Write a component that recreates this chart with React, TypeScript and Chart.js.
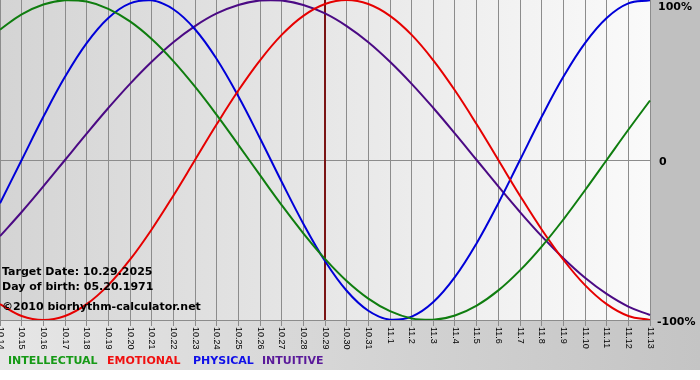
import React, { useEffect, useRef } from "react";
import { Chart, registerables } from "chart.js";

Chart.register(...registerables);

const dayLabels = [
  "10.14", "10.15", "10.16", "10.17", "10.18", "10.19", "10.20", "10.21", "10.22", "10.23",
  "10.24", "10.25", "10.26", "10.27", "10.28", "10.29", "10.30", "10.31", "11.1", "11.2",
  "11.3", "11.4", "11.5", "11.6", "11.7", "11.8", "11.9", "11.10", "11.11", "11.12", "11.13",
];

const intellectual = [
  81.5, 91.0, 97.2, 99.9, 99.0, 94.5, 86.6, 75.6, 61.8, 45.8,
  28.2, 9.5, -9.5, -28.2, -45.8, -61.8, -75.6, -86.6, -94.5, -99.0,
  -99.9, -97.2, -91.0, -81.5, -69.0, -54.1, -37.2, -18.9, 0, 18.9, 37.2,
];
const emotional = [
  -90.1, -97.5, -100, -97.5, -90.1, -78.2, -62.3, -43.4, -22.3, 0,
  22.3, 43.4, 62.3, 78.2, 90.1, 97.5, 100, 97.5, 90.1, 78.2,
  62.3, 43.4, 22.3, 0, -22.3, -43.4, -62.3, -78.2, -90.1, -97.5, -100,
];
const physical = [
  -27.0, 0, 27.0, 52.0, 73.1, 88.8, 97.9, 99.8, 94.2, 81.7,
  63.1, 39.8, 13.6, -13.6, -39.8, -63.1, -81.7, -94.2, -99.8, -97.9,
  -88.8, -73.1, -52.0, -27.0, 0, 27.0, 52.0, 73.1, 88.8, 97.9, 99.8,
];
const intuitive = [
  -47.6, -32.5, -16.5, 0, 16.5, 32.5, 47.6, 61.4, 73.6, 83.7,
  91.6, 96.9, 99.7, 99.7, 96.9, 91.6, 83.7, 73.6, 61.4, 47.6,
  32.5, 16.5, 0, -16.5, -32.5, -47.6, -61.4, -73.6, -83.7, -91.6, -96.9,
];

const targetIndex = 15;
const yTickLabels = ["100%", "0", "-100%"];
const yTickValues = [100, 0, -100];
const infoLines = ["Target Date: 10.29.2025", "Day of birth: 05.20.1971", "©2010 biorhythm-calculator.net"];

const series = [
  { name: "INTELLECTUAL", data: intellectual, color: "#0f7d0f", text: "#169a16" },
  { name: "EMOTIONAL", data: emotional, color: "#e60000", text: "#f01010" },
  { name: "PHYSICAL", data: physical, color: "#0000d8", text: "#1010e8" },
  { name: "INTUITIVE", data: intuitive, color: "#4b0a84", text: "#5a1a9a" },
];

const legendX = [8, 107, 193, 262];

export default function App() {
  const ref = useRef<HTMLCanvasElement>(null);

  useEffect(() => {
    document.body.style.margin = "0";
    const canvas = ref.current;
    if (!canvas) return;

    const decor = {
      id: "decor",
      beforeDraw(chart: any) {
        const { ctx, chartArea, width, height } = chart;
        const { left, right, top, bottom } = chartArea;
        ctx.save();
        ctx.fillStyle = "#ffffff";
        ctx.fillRect(0, 0, width, height);
        const g = ctx.createLinearGradient(left, 0, right, 0);
        g.addColorStop(0, "#d4d4d4");
        g.addColorStop(1, "#fafafa");
        ctx.fillStyle = g;
        ctx.fillRect(left, top, right - left, bottom - top);
        ctx.fillStyle = "#c0c0c0";
        ctx.fillRect(right, 0, width - right, bottom);
        const g2 = ctx.createLinearGradient(0, 0, width, 0);
        g2.addColorStop(0, "#e6e6e6");
        g2.addColorStop(1, "#c4c4c4");
        ctx.fillStyle = g2;
        ctx.fillRect(0, bottom, width, height - bottom);
        ctx.restore();
      },
      beforeDatasetsDraw(chart: any) {
        const { ctx, chartArea } = chart;
        const x = chart.scales.x.getPixelForValue(targetIndex);
        ctx.save();
        ctx.strokeStyle = "#7a1414";
        ctx.lineWidth = 2;
        ctx.beginPath();
        ctx.moveTo(x, chartArea.top);
        ctx.lineTo(x, chartArea.bottom);
        ctx.stroke();
        ctx.restore();
      },
      afterDraw(chart: any) {
        const { ctx, chartArea } = chart;
        const { right, bottom } = chartArea;
        const xs = chart.scales.x;
        const ys = chart.scales.y;
        ctx.save();
        // x labels, rotated clockwise
        ctx.fillStyle = "#000";
        ctx.font = "9px 'Liberation Sans', sans-serif";
        dayLabels.forEach((lab, i) => {
          const x = xs.getPixelForValue(i);
          ctx.save();
          ctx.translate(x, bottom + 7);
          ctx.rotate(Math.PI / 2);
          ctx.textAlign = "left";
          ctx.textBaseline = "middle";
          ctx.fillText(lab, 0, 0);
          ctx.restore();
        });
        // y labels
        ctx.font = "bold 11px 'DejaVu Sans', sans-serif";
        ctx.textAlign = "left";
        ctx.textBaseline = "middle";
        const yOff = [7, 2, 2];
        yTickValues.forEach((v, i) => {
          const y = ys.getPixelForValue(v) + yOff[i];
          const x = v === 0 ? right + 9 : v > 0 ? right + 8 : right + 7;
          ctx.fillText(yTickLabels[i], x, y);
        });
        // info text
        ctx.font = "bold 11px 'DejaVu Sans', sans-serif";
        ctx.fillStyle = "#000";
        const infoY = [272, 287, 307];
        infoLines.forEach((t, i) => ctx.fillText(t, 2, infoY[i]));
        // legend
        ctx.font = "bold 11px 'DejaVu Sans', sans-serif";
        series.forEach((s, i) => {
          ctx.fillStyle = s.text;
          ctx.fillText(s.name, legendX[i], 361);
        });
        ctx.restore();
      },
    };

    const chart = new Chart(canvas, {
      type: "line",
      data: {
        labels: dayLabels,
        datasets: series.map((s) => ({
          label: s.name,
          data: s.data,
          borderColor: s.color,
          borderWidth: 2,
          pointRadius: 0,
          fill: false,
          tension: 0.4,
        })),
      },
      options: {
        responsive: false,
        animation: false,
        layout: { padding: 0 },
        plugins: { legend: { display: false }, tooltip: { enabled: false } },
        scales: {
          x: {
            ticks: { display: false },
            grid: { color: "#8c8c8c", lineWidth: 1, tickLength: 6, drawTicks: true },
            border: { color: "#8c8c8c" },
            afterFit(s: any) {
              s.height = 50;
            },
          },
          y: {
            position: "right",
            min: -100,
            max: 100,
            ticks: { display: false, stepSize: 100 },
            grid: {
              color: (c: any) => (c.tick && c.tick.value === 0 ? "#8c8c8c" : "rgba(0,0,0,0)"),
              drawTicks: false,
            },
            border: { display: false },
            afterFit(s: any) {
              s.width = 50;
            },
          },
        },
      },
      plugins: [decor],
    });
    return () => chart.destroy();
  }, []);

  return (
    <div style={{ width: 700, height: 370 }}>
      <canvas ref={ref} width={700} height={370} style={{ display: "block" }} />
    </div>
  );
}
